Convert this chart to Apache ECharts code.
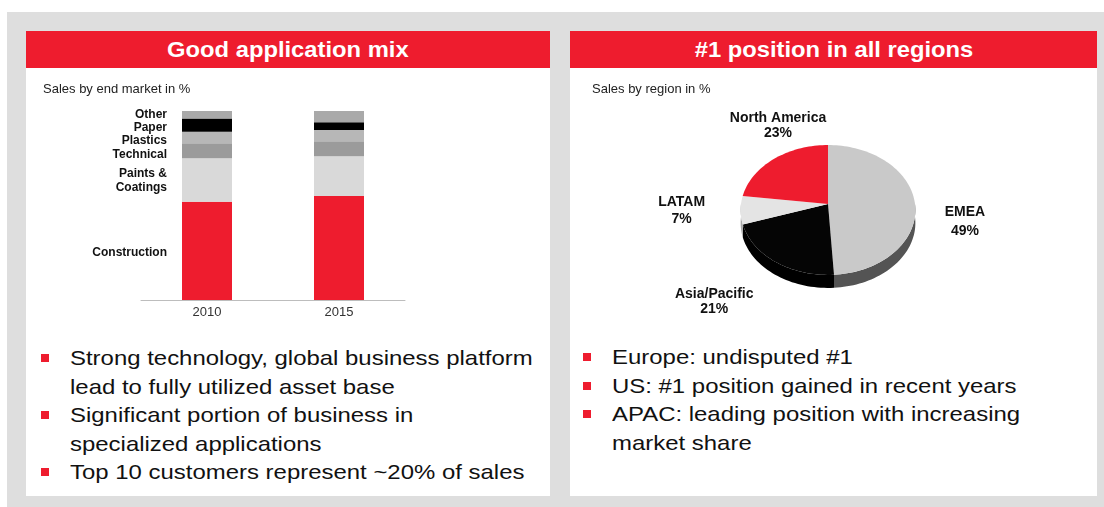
<!DOCTYPE html>
<html>
<head>
<meta charset="utf-8">
<script src="https://cdn.jsdelivr.net/npm/echarts@6/dist/echarts.min.js"></script>
<style>
  body { margin: 0; width: 1104px; height: 507px; background: #fff; overflow: hidden;
         font-family: Arial, "Liberation Sans", sans-serif; }
  #bg { position: absolute; left: 7px; top: 12px; width: 1097px; height: 495px; background: #dedede; }
  .panel { position: absolute; top: 31px; height: 465px; background: #fff; }
  .head { height: 37px; line-height: 37px; background: #ee1c2e; color: #fff;
          font-weight: bold; font-size: 22px; text-align: center; }
  .head span { display: inline-block; transform: scaleX(1.08); }
  .bullets { position: absolute; font-size: 21px; line-height: 28.6px; color: #111; white-space: nowrap; }
  .bullets div { position: relative; }
  .bullets div::before { content: ""; position: absolute; left: -29px; top: 10px;
                         width: 8px; height: 8px; background: #ee1c2e; }
  .bullets span { display: inline-block; transform: scaleX(1.14); transform-origin: 0 50%; }
  #chart { position: absolute; left: 0; top: 0; width: 1104px; height: 507px; }
</style>
</head>
<body>
<div id="bg"></div>
<div class="panel" style="left:26px;width:524px;"><div class="head"><span>Good application mix</span></div></div>
<div class="panel" style="left:570px;width:527px;"><div class="head"><span>#1 position in all regions</span></div></div>
<div class="bullets" style="left:70px;top:344px;">
  <div><span>Strong technology, global business platform<br>lead to fully utilized asset base</span></div>
  <div><span>Significant portion of business in<br>specialized applications</span></div>
  <div><span>Top 10 customers represent ~20% of sales</span></div>
</div>
<div class="bullets" style="left:612px;top:343px;">
  <div><span>Europe: undisputed #1</span></div>
  <div><span>US: #1 position gained in recent years</span></div>
  <div><span>APAC: leading position with increasing<br>market share</span></div>
</div>
<div id="chart"></div>
<script>
// sales by end market, % (stacked bottom to top)
const years = ['2010', '2015'];
const construction = [52, 55];
const paintsCoatings = [23, 21];
const technical = [8, 8];
const plastics = [6, 6];
const paper = [7, 4];
const other = [4, 6];

// sales by region, % (clockwise from 12 o'clock)
const regions = ['EMEA', 'Asia/Pacific', 'LATAM', 'North America'];
const regionShare = [49, 21, 7, 23];

const chart = echarts.init(document.getElementById('chart'));

const stacks = [
  { name: 'Construction', data: construction, color: '#ee1c2e', dy: 2 },
  { name: 'Paints & Coatings', data: paintsCoatings, color: '#d9d9d9', dy: 1 },
  { name: 'Technical', data: technical, color: '#9b9b9b', dy: 4 },
  { name: 'Plastics', data: plastics, color: '#b7b7b7', dy: 3 },
  { name: 'Paper', data: paper, color: '#000000', dy: 3 },
  { name: 'Other', data: other, color: '#a9a9a9', dy: 0 }
];

const barSeries = stacks.map(function (s) {
  return {
    name: s.name,
    type: 'bar',
    stack: 'mix',
    barWidth: 50,
    itemStyle: { color: s.color },
    // names only next to the first bar
    data: s.data.map(function (v, i) {
      return i === 0 ? { value: v, label: { show: true } } : v;
    }),
    label: {
      show: false,
      position: 'left',
      distance: 15,
      formatter: function (p) { return p.seriesName.replace(' & ', ' &\n'); },
      color: '#111',
      fontSize: 12,
      fontWeight: 'bold',
      fontFamily: 'Arial',
      lineHeight: 14
    },
    labelLayout: { dy: s.dy, hideOverlap: false }
  };
});

// tilted pie: circle seen in perspective (far side squeezed)
const pieC = { x: 828, y: 204, rx: 87, ry: 64.4, k: 0.092, depth: 13 };
const topColors = ['#c9c9c9', '#050505', '#e4e4e4', '#ee1c2e'];
const sideColors = ['#545454', '#000000', '#a8a8a8', '#9a1220'];
const labelNudge = [[4, 21], [-39, 15], [-14, -3], [38, -3]];
const labelGap = [19, 15, 17, 15];
const shareTotal = regionShare.reduce(function (a, b) { return a + b; }, 0);

function ellPt(deg, dy) {
  const r = deg * Math.PI / 180;
  const u = Math.sin(r), v = -Math.cos(r);
  const w = 1 - pieC.k * v;
  return [pieC.x + pieC.rx * u / w, pieC.y + pieC.ry * v / w + (dy || 0)];
}
function arc(a, b, dy) {
  const pts = [];
  const n = Math.max(2, Math.ceil(Math.abs(b - a) / 2));
  for (let k = 0; k <= n; k++) pts.push(ellPt(a + (b - a) * k / n, dy));
  return pts;
}

function renderSlice(params, api) {
  const i = params.dataIndex;
  let before = 0;
  for (let k = 0; k < i; k++) before += regionShare[k];
  const start = before / shareTotal * 360;
  const end = start + api.value(0) / shareTotal * 360;
  const children = [];
  const s2 = Math.max(start, 90), e2 = Math.min(end, 270);
  if (s2 < e2) {
    const side = arc(s2, e2, 0).concat(arc(e2, s2, pieC.depth));
    children.push({ type: 'polygon', shape: { points: side }, style: { fill: sideColors[i] } });
  }
  const top = [[pieC.x, pieC.y]].concat(arc(start, end, 0));
  children.push({ type: 'polygon', shape: { points: top }, style: { fill: topColors[i] } });
  const mid = (start + end) / 2 * Math.PI / 180;
  const lx = pieC.x + (pieC.rx + 46) * Math.sin(mid) + labelNudge[i][0];
  const ly = pieC.y - (pieC.ry + 36) * Math.cos(mid) + labelNudge[i][1];
  children.push({
    type: 'text',
    x: lx, y: ly,
    style: {
      text: regions[i] + '\n' + api.value(0) + '%',
      fill: '#111', fontSize: 14, fontWeight: 'bold', fontFamily: 'Arial',
      align: 'center', verticalAlign: 'middle', textAlign: 'center', textVerticalAlign: 'middle',
      lineHeight: labelGap[i]
    }
  });
  return { type: 'group', children: children };
}

chart.setOption({
  animation: false,
  title: [
    { text: 'Sales by end market in %', left: 38, top: 78,
      textStyle: { fontSize: 13, fontWeight: 'normal', color: '#222', fontFamily: 'Arial' } },
    { text: 'Sales by region in %', left: 587, top: 78,
      textStyle: { fontSize: 13, fontWeight: 'normal', color: '#222', fontFamily: 'Arial' } }
  ],
  grid: { left: 141, top: 111, width: 264, height: 189 },
  xAxis: {
    type: 'category',
    data: years,
    axisLine: { lineStyle: { color: '#bdbdbd' } },
    axisTick: { length: 5, lineStyle: { color: '#bdbdbd' } },
    axisLabel: { color: '#333', fontSize: 13, fontFamily: 'Arial', margin: 6 }
  },
  yAxis: { type: 'value', min: 0, max: 100, show: false },
  series: barSeries.concat([{
    type: 'custom',
    coordinateSystem: 'none',
    renderItem: renderSlice,
    data: regionShare.map(function (v) { return [v]; })
  }])
});
</script>
</body>
</html>
